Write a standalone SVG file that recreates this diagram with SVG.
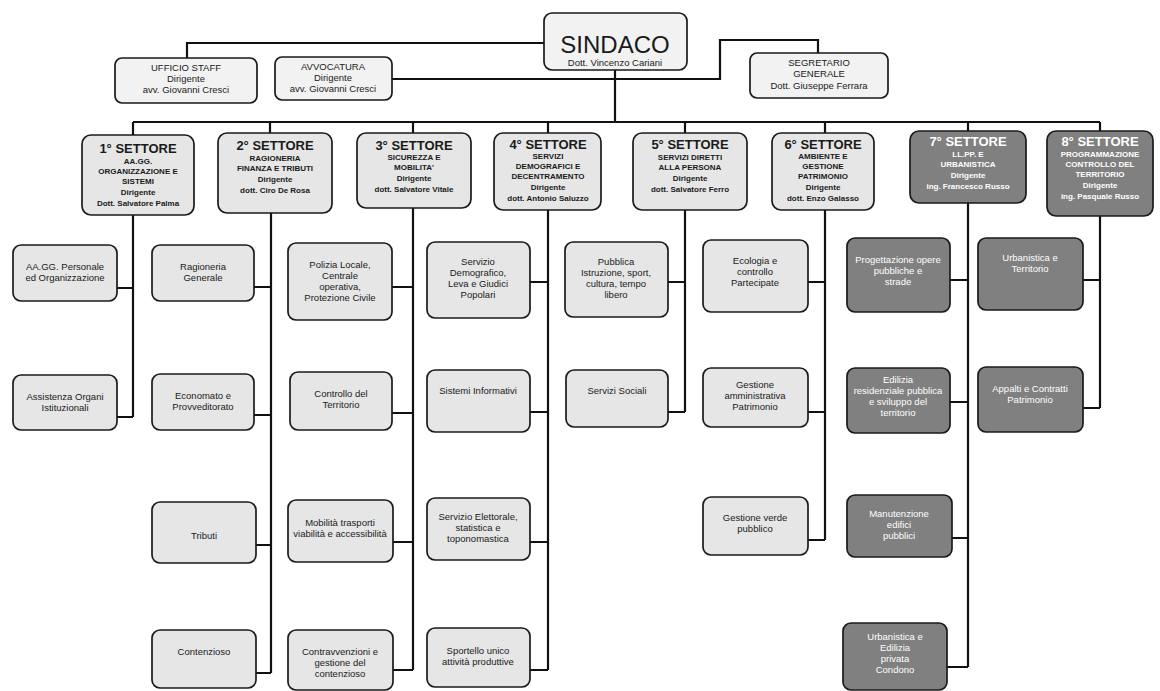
<svg xmlns="http://www.w3.org/2000/svg" width="1160" height="691" viewBox="0 0 1160 691">
<style>
.bg{fill:#ffffff}
.box{fill:#e6e6e6;stroke:#1a1a1a;stroke-width:1.7}
.dark{fill:#808080;stroke:#1a1a1a;stroke-width:1.7}
.top{fill:#f2f2f2;stroke:#1a1a1a;stroke-width:1.7}
.ln{fill:none;stroke:#111;stroke-width:2.2}
.t{font-family:"Liberation Sans",Arial,sans-serif;font-size:9.5px;fill:#1a1a1a;text-anchor:middle}
.tw{font-family:"Liberation Sans",Arial,sans-serif;font-size:9.5px;fill:#fff;text-anchor:middle}
.h{font-family:"Liberation Sans",Arial,sans-serif;font-size:13px;font-weight:bold;fill:#1a1a1a;text-anchor:middle}
.hw{font-family:"Liberation Sans",Arial,sans-serif;font-size:13px;font-weight:bold;fill:#fff;text-anchor:middle}
.s{font-family:"Liberation Sans",Arial,sans-serif;font-size:8px;font-weight:bold;fill:#1a1a1a;text-anchor:middle}
.sw{font-family:"Liberation Sans",Arial,sans-serif;font-size:8px;font-weight:bold;fill:#fff;text-anchor:middle}
</style>
<rect class="bg" x="0" y="0" width="1160" height="691"/>
<g id="connectors">
<path class="ln" d="M544,43 H187 V58"/>
<path class="ln" d="M615,70 V122"/>
<path class="ln" d="M392,79 H720 V40 H818 V53"/>
<path class="ln" d="M133,122 H1100"/>
<path class="ln" d="M133,122 V135 M270,122 V133 M413,122 V133 M548,122 V133 M685,122 V133 M825,122 V133 M968,122 V131 M1100,122 V131"/>
<path class="ln" d="M133,215 V417 M117,288 H133 M117,417 H133"/>
<path class="ln" d="M271,213 V673 M254,287 H271 M254,415 H271 M256,545 H271 M256,673 H271"/>
<path class="ln" d="M413,208 V670 M392,287 H413 M392,413 H413 M393,542 H413 M393,670 H413"/>
<path class="ln" d="M548,210 V670 M530,282 H548 M530,412 H548 M530,542 H548 M530,670 H548"/>
<path class="ln" d="M685,210 V412 M668,282 H685 M668,412 H685"/>
<path class="ln" d="M825,210 V540 M808,282 H825 M808,412 H825 M808,540 H825"/>
<path class="ln" d="M968,203 V667 M950,280 H968 M950,402 H968 M952,538 H968 M947,667 H968"/>
<path class="ln" d="M1100,216 V408 M1083,280 H1100 M1083,408 H1100"/>
</g>
<g id="sindaco">
<rect class="top" x="544" y="13" width="143" height="57" rx="8"/>
<text x="615" y="53" font-family="Liberation Sans,Arial,sans-serif" font-size="24" fill="#1a1a1a" text-anchor="middle">SINDACO</text>
<text class="t" x="615" y="66">Dott. Vincenzo Cariani</text>
</g>
<g id="ufficio-staff">
<rect class="top" x="115" y="58" width="142" height="45" rx="7"/>
<text class="t" x="186" y="71">UFFICIO STAFF</text>
<text class="t" x="186" y="82">Dirigente</text>
<text class="t" x="186" y="93">avv. Giovanni Cresci</text>
</g>
<g id="avvocatura">
<rect class="top" x="275" y="57" width="117" height="43" rx="7"/>
<text class="t" x="333" y="70">AVVOCATURA</text>
<text class="t" x="333" y="81">Dirigente</text>
<text class="t" x="333" y="92">avv. Giovanni Cresci</text>
</g>
<g id="segretario">
<rect class="top" x="750" y="53" width="138" height="45" rx="7"/>
<text class="t" x="819" y="66">SEGRETARIO</text>
<text class="t" x="819" y="77">GENERALE</text>
<text class="t" x="819" y="89">Dott. Giuseppe Ferrara</text>
</g>
<g id="settore1">
<rect class="box" x="82" y="135" width="112" height="80" rx="9"/>
<text class="h" x="138" y="153">1° SETTORE</text>
<text class="s" x="138" y="164">AA.GG.</text>
<text class="s" x="138" y="174">ORGANIZZAZIONE E</text>
<text class="s" x="138" y="184">SISTEMI</text>
<text class="s" x="138" y="195">Dirigente</text>
<text class="s" x="138" y="206">Dott. Salvatore Palma</text>
</g>
<g id="settore2">
<rect class="box" x="218" y="133" width="114" height="80" rx="9"/>
<text class="h" x="275" y="150">2° SETTORE</text>
<text class="s" x="275" y="161">RAGIONERIA</text>
<text class="s" x="275" y="171">FINANZA E TRIBUTI</text>
<text class="s" x="275" y="182">Dirigente</text>
<text class="s" x="275" y="193">dott. Ciro De Rosa</text>
</g>
<g id="settore3">
<rect class="box" x="357" y="133" width="114" height="75" rx="9"/>
<text class="h" x="414" y="150">3° SETTORE</text>
<text class="s" x="414" y="160">SICUREZZA E</text>
<text class="s" x="414" y="170">MOBILITA'</text>
<text class="s" x="414" y="181">Dirigente</text>
<text class="s" x="414" y="192">dott. Salvatore Vitale</text>
</g>
<g id="settore4">
<rect class="box" x="494" y="133" width="107" height="77" rx="9"/>
<text class="h" x="548" y="149">4° SETTORE</text>
<text class="s" x="548" y="159">SERVIZI</text>
<text class="s" x="548" y="169">DEMOGRAFICI E</text>
<text class="s" x="548" y="179">DECENTRAMENTO</text>
<text class="s" x="548" y="190">Dirigente</text>
<text class="s" x="548" y="201">dott. Antonio Saluzzo</text>
</g>
<g id="settore5">
<rect class="box" x="633" y="133" width="114" height="77" rx="9"/>
<text class="h" x="690" y="149">5° SETTORE</text>
<text class="s" x="690" y="160">SERVIZI DIRETTI</text>
<text class="s" x="690" y="170">ALLA PERSONA</text>
<text class="s" x="690" y="181">Dirigente</text>
<text class="s" x="690" y="192">dott. Salvatore Ferro</text>
</g>
<g id="settore6">
<rect class="box" x="772" y="133" width="102" height="77" rx="9"/>
<text class="h" x="823" y="149">6° SETTORE</text>
<text class="s" x="823" y="159">AMBIENTE E</text>
<text class="s" x="823" y="169">GESTIONE</text>
<text class="s" x="823" y="179">PATRIMONIO</text>
<text class="s" x="823" y="190">Dirigente</text>
<text class="s" x="823" y="201">dott. Enzo Galasso</text>
</g>
<g id="settore7">
<rect class="dark" x="910" y="131" width="116" height="72" rx="9"/>
<text class="hw" x="968" y="146">7° SETTORE</text>
<text class="sw" x="968" y="157">LL.PP. E</text>
<text class="sw" x="968" y="167">URBANISTICA</text>
<text class="sw" x="968" y="178">Dirigente</text>
<text class="sw" x="968" y="189">ing. Francesco Russo</text>
</g>
<g id="settore8">
<rect class="dark" x="1047" y="131" width="106" height="85" rx="9"/>
<text class="hw" x="1100" y="146">8° SETTORE</text>
<text class="sw" x="1100" y="157">PROGRAMMAZIONE</text>
<text class="sw" x="1100" y="167">CONTROLLO DEL</text>
<text class="sw" x="1100" y="177">TERRITORIO</text>
<text class="sw" x="1100" y="188">Dirigente</text>
<text class="sw" x="1100" y="199">ing. Pasquale Russo</text>
</g>
<g id="s1-a"><rect class="box" x="13" y="245" width="104" height="56" rx="8"/><text class="t" x="65" y="270">AA.GG. Personale</text><text class="t" x="65" y="281">ed Organizzazione</text></g>
<g id="s1-b"><rect class="box" x="13" y="375" width="104" height="55" rx="8"/><text class="t" x="65" y="400">Assistenza Organi</text><text class="t" x="65" y="411">Istituzionali</text></g>
<g id="s2-a"><rect class="box" x="152" y="245" width="102" height="56" rx="8"/><text class="t" x="203" y="270">Ragioneria</text><text class="t" x="203" y="281">Generale</text></g>
<g id="s2-b"><rect class="box" x="152" y="374" width="102" height="56" rx="8"/><text class="t" x="203" y="399">Economato e</text><text class="t" x="203" y="410">Provveditorato</text></g>
<g id="s2-c"><rect class="box" x="152" y="502" width="104" height="61" rx="8"/><text class="t" x="204" y="539">Tributi</text></g>
<g id="s2-d"><rect class="box" x="152" y="630" width="104" height="58" rx="8"/><text class="t" x="204" y="655">Contenzioso</text></g>
<g id="s3-a"><rect class="box" x="288" y="243" width="104" height="77" rx="8"/><text class="t" x="340" y="268">Polizia Locale,</text><text class="t" x="340" y="279">Centrale</text><text class="t" x="340" y="290">operativa,</text><text class="t" x="340" y="301">Protezione Civile</text></g>
<g id="s3-b"><rect class="box" x="290" y="372" width="102" height="58" rx="8"/><text class="t" x="341" y="397">Controllo del</text><text class="t" x="341" y="408">Territorio</text></g>
<g id="s3-c"><rect class="box" x="288" y="500" width="105" height="62" rx="8"/><text class="t" x="340" y="526">Mobilità trasporti</text><text class="t" x="340" y="537">viabilità e accessibilità</text></g>
<g id="s3-d"><rect class="box" x="288" y="630" width="105" height="60" rx="8"/><text class="t" x="340" y="655">Contravvenzioni e</text><text class="t" x="340" y="666">gestione del</text><text class="t" x="340" y="677">contenzioso</text></g>
<g id="s4-a"><rect class="box" x="427" y="242" width="103" height="76" rx="8"/><text class="t" x="478" y="265">Servizio</text><text class="t" x="478" y="276">Demografico,</text><text class="t" x="478" y="287">Leva e Giudici</text><text class="t" x="478" y="298">Popolari</text></g>
<g id="s4-b"><rect class="box" x="427" y="370" width="103" height="62" rx="8"/><text class="t" x="478" y="394">Sistemi Informativi</text></g>
<g id="s4-c"><rect class="box" x="427" y="498" width="103" height="62" rx="8"/><text class="t" x="478" y="520">Servizio Elettorale,</text><text class="t" x="478" y="531">statistica e</text><text class="t" x="478" y="542">toponomastica</text></g>
<g id="s4-d"><rect class="box" x="427" y="628" width="103" height="59" rx="8"/><text class="t" x="478" y="654">Sportello unico</text><text class="t" x="478" y="665">attività produttive</text></g>
<g id="s5-a"><rect class="box" x="565" y="242" width="103" height="75" rx="8"/><text class="t" x="616" y="265">Pubblica</text><text class="t" x="616" y="276">Istruzione, sport,</text><text class="t" x="616" y="287">cultura, tempo</text><text class="t" x="616" y="298">libero</text></g>
<g id="s5-b"><rect class="box" x="566" y="370" width="102" height="57" rx="8"/><text class="t" x="617" y="394">Servizi Sociali</text></g>
<g id="s6-a"><rect class="box" x="703" y="240" width="105" height="72" rx="8"/><text class="t" x="755" y="264">Ecologia e</text><text class="t" x="755" y="275">controllo</text><text class="t" x="755" y="286">Partecipate</text></g>
<g id="s6-b"><rect class="box" x="703" y="368" width="105" height="59" rx="8"/><text class="t" x="755" y="388">Gestione</text><text class="t" x="755" y="399">amministrativa</text><text class="t" x="755" y="410">Patrimonio</text></g>
<g id="s6-c"><rect class="box" x="703" y="497" width="105" height="58" rx="8"/><text class="t" x="755" y="521">Gestione verde</text><text class="t" x="755" y="532">pubblico</text></g>
<g id="s7-a"><rect class="dark" x="847" y="238" width="103" height="74" rx="8"/><text class="tw" x="898" y="263">Progettazione opere</text><text class="tw" x="898" y="274">pubbliche e</text><text class="tw" x="898" y="285">strade</text></g>
<g id="s7-b"><rect class="dark" x="847" y="368" width="103" height="65" rx="8"/><text class="tw" x="898" y="383">Edilizia</text><text class="tw" x="898" y="394">residenziale pubblica</text><text class="tw" x="898" y="405">e sviluppo del</text><text class="tw" x="898" y="416">territorio</text></g>
<g id="s7-c"><rect class="dark" x="847" y="495" width="105" height="62" rx="8"/><text class="tw" x="899" y="517">Manutenzione</text><text class="tw" x="899" y="528">edifici</text><text class="tw" x="899" y="539">pubblici</text></g>
<g id="s7-d"><rect class="dark" x="843" y="623" width="104" height="67" rx="8"/><text class="tw" x="895" y="640">Urbanistica e</text><text class="tw" x="895" y="651">Edilizia</text><text class="tw" x="895" y="662">privata</text><text class="tw" x="895" y="673">Condono</text></g>
<g id="s8-a"><rect class="dark" x="978" y="238" width="105" height="72" rx="8"/><text class="tw" x="1030" y="261">Urbanistica e</text><text class="tw" x="1030" y="272">Territorio</text></g>
<g id="s8-b"><rect class="dark" x="978" y="367" width="105" height="65" rx="8"/><text class="tw" x="1030" y="392">Appalti e Contratti</text><text class="tw" x="1030" y="403">Patrimonio</text></g>
</svg>
